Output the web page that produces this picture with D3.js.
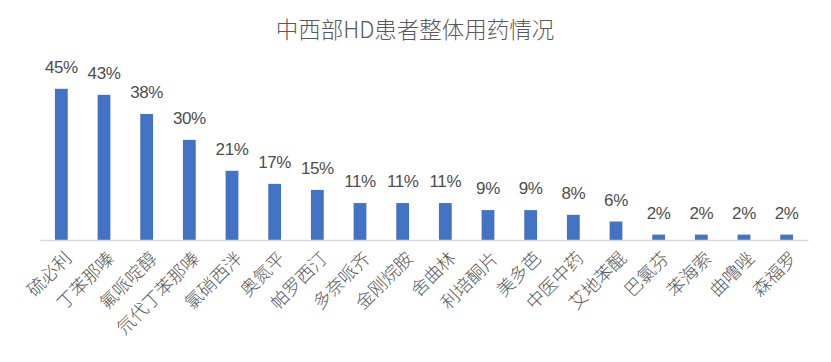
<!DOCTYPE html>
<html>
<head>
<meta charset="utf-8">
<script src="https://cdn.jsdelivr.net/npm/d3@7"></script>
<style>
  body { margin: 0; background: #fff; }
  svg { display: block; }
</style>
</head>
<body>
<div id="chart"></div>
<script>
// data
const title = '中西部HD患者整体用药情况';
const drugs = ['硫必利', '丁苯那嗪', '氟哌啶醇', '氘代丁苯那嗪', '氯硝西泮', '奥氮平', '帕罗西汀', '多奈哌齐', '金刚烷胺',
  '舍曲林', '利培酮片', '美多芭', '中医中药', '艾地苯醌', '巴氯芬', '苯海索', '曲噜唑', '森福罗'];
const shares = [45, 43.2, 37.5, 29.8, 20.6, 16.7, 14.9, 11.0, 11.0, 11.0, 8.9, 8.9, 7.5, 5.5, 1.6, 1.6, 1.6, 1.6];
const yDomain = [0, 50];

const width = 831, height = 362;
const margin = { left: 40, right: 23, top: 72, bottom: 122 };

const svg = d3.select('#chart').append('svg')
  .attr('width', width)
  .attr('height', height);

const x = d3.scaleBand()
  .domain(drugs)
  .range([margin.left, width - margin.right])
  .paddingInner(0.7)
  .paddingOuter(0.35);

const y = d3.scaleLinear()
  .domain(yDomain)
  .range([height - margin.bottom, margin.top]);

// title
svg.append('text')
  .attr('x', 415)
  .attr('y', 38)
  .attr('text-anchor', 'middle')
  .attr('font-family', '"Noto Sans CJK SC", sans-serif')
  .attr('font-size', '22.5px')
  .attr('font-weight', 300)
  .attr('fill', '#595959')
  .text(title);

// bars
svg.selectAll('rect.bar')
  .data(drugs)
  .enter()
  .append('rect')
  .attr('class', 'bar')
  .attr('x', d => x(d))
  .attr('width', x.bandwidth())
  .attr('y', (d, i) => y(shares[i]))
  .attr('height', (d, i) => y(0) - y(shares[i]))
  .attr('fill', '#4472C4');

// data labels
svg.selectAll('text.val')
  .data(drugs)
  .enter()
  .append('text')
  .attr('class', 'val')
  .attr('x', d => x(d) + x.bandwidth() / 2)
  .attr('y', (d, i) => y(shares[i]) - 16)
  .attr('text-anchor', 'middle')
  .attr('font-family', '"Liberation Sans Narrow", "Liberation Sans", sans-serif')
  .attr('font-size', '17px')
  .attr('letter-spacing', '-0.4px')
  .attr('fill', '#4d4d4d')
  .text((d, i) => Math.round(shares[i]) + '%');

// x axis
const xAxis = svg.append('g')
  .attr('transform', `translate(0,${y(0)})`)
  .call(d3.axisBottom(x).tickSize(0).tickPadding(0));

xAxis.select('.domain')
  .attr('stroke', '#d9d9d9')
  .attr('stroke-width', 1.5);

xAxis.selectAll('.tick text')
  .attr('font-family', '"Noto Sans CJK SC", sans-serif')
  .attr('font-size', '18px')
  .attr('font-weight', 300)
  .attr('fill', '#595959')
  .attr('text-anchor', 'end')
  .attr('dy', '0.35em')
  .attr('transform', 'translate(7,15) rotate(-45)');
</script>
</body>
</html>
